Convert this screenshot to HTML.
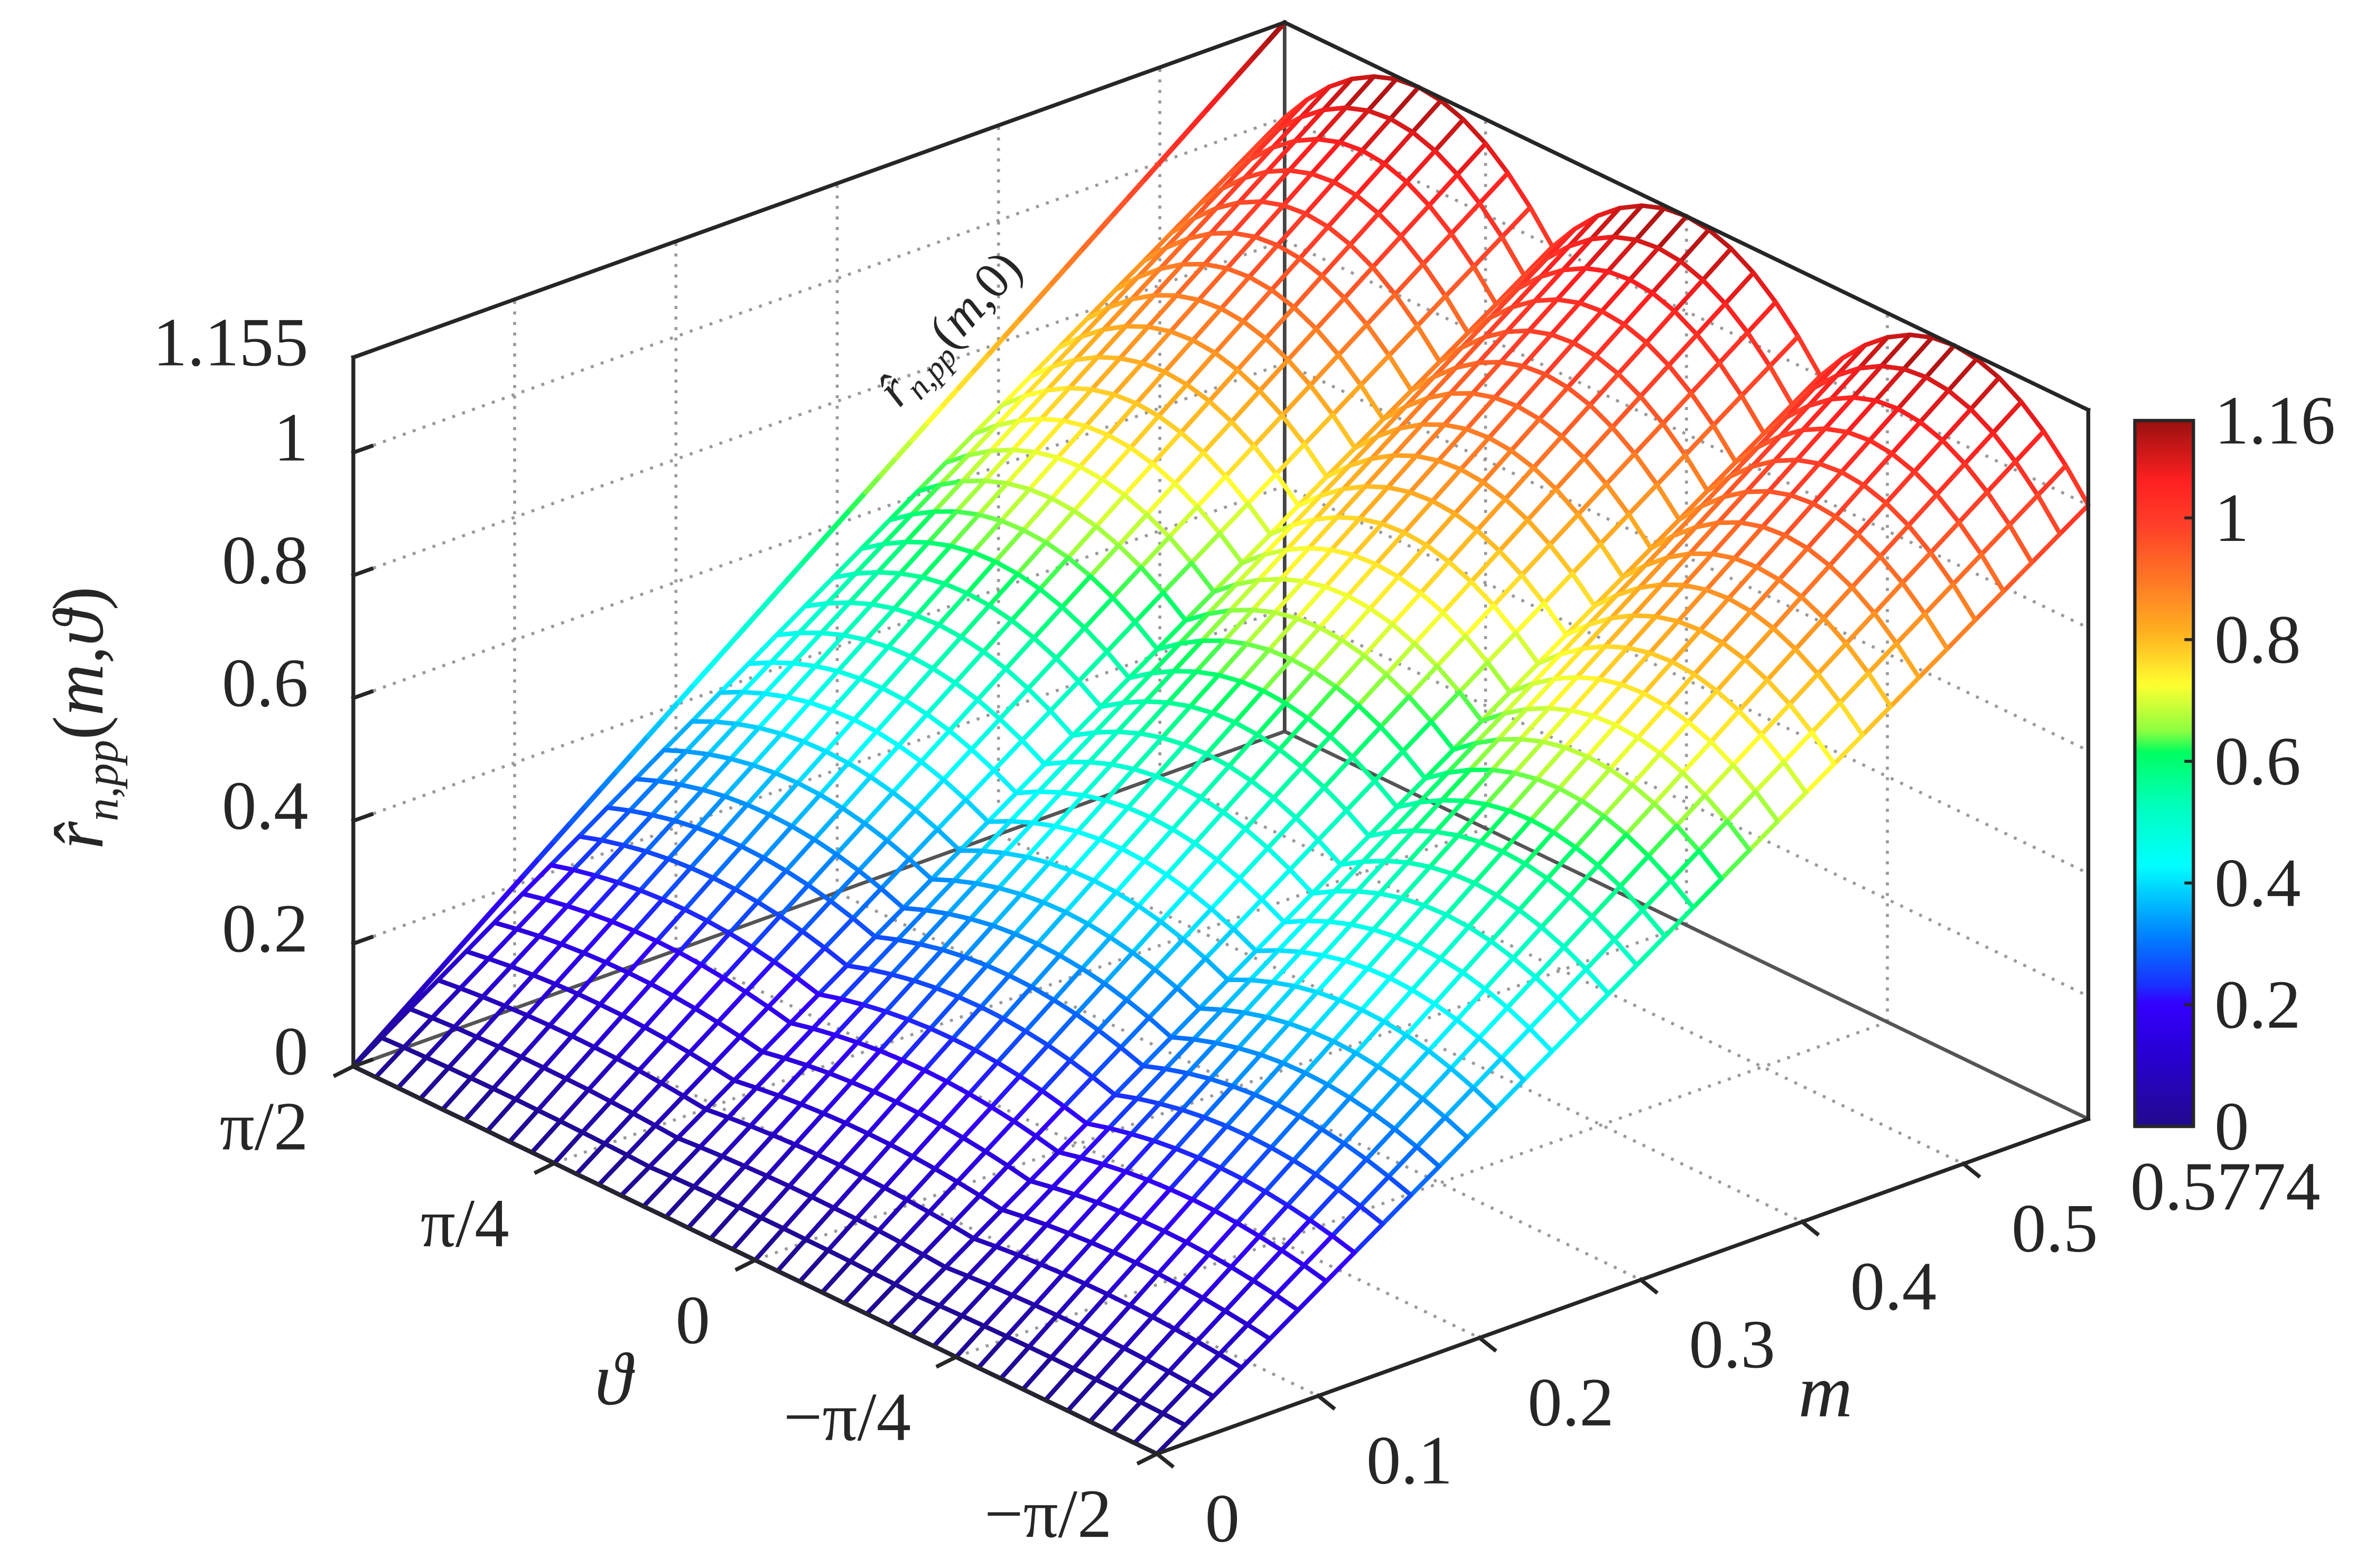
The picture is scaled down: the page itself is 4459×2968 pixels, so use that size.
<!DOCTYPE html>
<html><head><meta charset="utf-8"><style>
html,body{margin:0;padding:0;background:#fff;}
svg{display:block;}
text{font-family:"Liberation Serif","DejaVu Serif",serif;fill:#262626;}
</style></head><body>
<svg id="chart" xmlns="http://www.w3.org/2000/svg" width="4459" height="2968" viewBox="0 0 1568 1044">
<defs>
<linearGradient id="jetgrad" x1="0" y1="1" x2="0" y2="0"></linearGradient>
</defs>
<g id="grid"></g>
<g id="box"></g>
<g id="surf"></g>
<g id="front"></g>
<g id="labels"></g>
<text transform="translate(68,478) rotate(-90)" text-anchor="middle" font-size="48"><tspan font-style="italic">r̂</tspan><tspan font-style="italic" font-size="31" dy="10">n,pp</tspan><tspan dy="-10">(</tspan><tspan font-style="italic">m</tspan><tspan>,</tspan><tspan font-style="italic">ϑ</tspan><tspan>)</tspan></text>
<text x="408" y="935" text-anchor="middle" font-size="50" font-style="italic">ϑ</text>
<text x="1215" y="943" text-anchor="middle" font-size="50" font-style="italic">m</text>
<text transform="translate(640,226) rotate(-48)" text-anchor="middle" font-size="34"><tspan font-style="italic">r̂</tspan><tspan font-style="italic" font-size="22" dy="7">n,pp</tspan><tspan dy="-7">(</tspan><tspan font-style="italic">m</tspan><tspan>,0)</tspan></text>
<g id="cbar"></g>
</svg>
<script>
const mMax = 0.5774;
const zMax = 1.155;
const cMax = 1.16;
const nM = 33;
const nTheta = 36;
const ridgeCenters = [Math.PI/3, 0, -Math.PI/3];
const zTicks = [0, 0.2, 0.4, 0.6, 0.8, 1, 1.155];
const zTickLabels = ["0", "0.2", "0.4", "0.6", "0.8", "1", "1.155"];
const mTicks = [0, 0.1, 0.2, 0.3, 0.4, 0.5];
const mTickLabels = ["0", "0.1", "0.2", "0.3", "0.4", "0.5"];
const thetaTicks = [Math.PI/2, Math.PI/4, 0, -Math.PI/4, -Math.PI/2];
const thetaTickLabels = ["π/2", "π/4", "0", "−π/4", "−π/2"];
const cbarTicks = [0, 0.2, 0.4, 0.6, 0.8, 1, 1.16];
const cbarTickLabels = ["0", "0.2", "0.4", "0.6", "0.8", "1", "1.16"];

const cmapStops = [
  [0.00, [32,10,140]], [0.10, [40,0,210]], [0.175, [51,0,255]], [0.20, [26,48,255]],
  [0.27, [0,128,255]], [0.37, [0,255,255]], [0.45, [0,255,192]], [0.53, [0,255,96]],
  [0.56, [140,255,64]], [0.625, [255,255,48]], [0.70, [255,176,32]], [0.77, [255,122,37]],
  [0.85, [255,64,40]], [0.914, [255,32,32]], [1.00, [154,16,16]]
];
const NS = "http://www.w3.org/2000/svg";
const O = [235, 710], MV = [620, -223], TV = [535, 258], ZS = 408.7;
function P(m, th, z) {
  const a = m / mMax, t = (Math.PI/2 - th) / Math.PI;
  return [O[0] + MV[0]*a + TV[0]*t, O[1] + MV[1]*a + TV[1]*t - ZS*z];
}
function jet(v) {
  v = Math.max(0, Math.min(1, v));
  for (let k = 1; k < cmapStops.length; k++) {
    const [f1, c1] = cmapStops[k-1], [f2, c2] = cmapStops[k];
    if (v <= f2) {
      const u = (v - f1) / (f2 - f1);
      return `rgb(${c1.map((c, i) => Math.round(c + (c2[i]-c)*u)).join(',')})`;
    }
  }
  return 'rgb(154,16,16)';
}
function surfZ(m, th) {
  let best = ridgeCenters[0];
  for (const c of ridgeCenters) if (Math.abs(th-c) < Math.abs(th-best)) best = c;
  return 2*m*Math.cos(th - best);
}
function el(tag, attrs, parent) {
  const e = document.createElementNS(NS, tag);
  for (const k in attrs) e.setAttribute(k, attrs[k]);
  parent.appendChild(e);
  return e;
}
function line(a, b, style, parent, name) {
  const e = el('line', {x1:a[0], y1:a[1], x2:b[0], y2:b[1]}, parent);
  e.setAttribute('style', style);
  
  
  return e;
}
const grid = document.getElementById('grid');
const box = document.getElementById('box');
const surf = document.getElementById('surf');
const front = document.getElementById('front');
const labels = document.getElementById('labels');
const cbar = document.getElementById('cbar');
const dotted = 'stroke:#9a9a9a;stroke-width:2;stroke-dasharray:2 5;fill:none';
const solidGray = 'stroke:#555;stroke-width:2.4';
const dark = 'stroke:#262626;stroke-width:2.6;stroke-linecap:square';
const TH0 = Math.PI/2, TH1 = -Math.PI/2;

zTicks.slice(1, 6).forEach(z => {
  line(P(0,TH0,z), P(mMax,TH0,z), dotted, grid, 'back-left-z-gridline');
  line(P(mMax,TH0,z), P(mMax,TH1,z), dotted, grid, 'back-right-z-gridline');
});
mTicks.slice(1).forEach(m => {
  line(P(m,TH0,0), P(m,TH0,zMax), dotted, grid, 'back-left-m-gridline');
  line(P(m,TH0,0), P(m,TH1,0), dotted, grid, 'floor-m-gridline');
});
thetaTicks.slice(1, 4).forEach(th => {
  line(P(mMax,th,0), P(mMax,th,zMax), dotted, grid, 'back-right-theta-gridline');
  line(P(0,th,0), P(mMax,th,0), dotted, grid, 'floor-theta-gridline');
});
line(P(0,TH0,0), P(mMax,TH0,0), solidGray, box, 'floor-back-left-edge');
line(P(mMax,TH0,0), P(mMax,TH1,0), solidGray, box, 'floor-back-right-edge');
line(P(mMax,TH0,0), P(mMax,TH0,zMax), 'stroke:#444;stroke-width:2.4', box, 'back-vertical-edge');

// surface mesh (wireframe)
const quads = [];
for (let i = 0; i < nM; i++) for (let j = 0; j < nTheta; j++) {
  const m0 = mMax*i/nM, m1 = mMax*(i+1)/nM;
  const t0 = TH0 - Math.PI*j/nTheta, t1 = TH0 - Math.PI*(j+1)/nTheta;
  const pts = [[m0,t0],[m1,t0],[m1,t1],[m0,t1]].map(q => { const z = surfZ(q[0], q[1]); return {p:P(q[0],q[1],z), z}; });
  const fc = P((m0+m1)/2, (t0+t1)/2, 0);
  quads.push({pts, depth: fc[1]});
}
quads.sort((a, b) => a.depth - b.depth);
quads.forEach(q => {
  const zAvg = q.pts.reduce((s, v) => s + v.z, 0) / 4;
  const poly = el('polygon', {points: q.pts.map(v => v.p.map(n => n.toFixed(1)).join(',')).join(' '), fill:'none', stroke: jet(zAvg/cMax), 'stroke-width': 3, 'stroke-linejoin':'round'}, surf);
  
  
});
for (let i = 0; i < 60; i++) {
  const ma = mMax*i/60, mb = mMax*(i+1)/60;
  line(P(ma,TH0,2*ma), P(mb,TH0,2*mb), `stroke:${jet((ma+mb)/cMax)};stroke-width:3.4;stroke-linecap:round`, surf, 'ridge-line-segment');
}

line(P(0,TH0,0), P(0,TH0,zMax), dark, front, 'z-axis-line');
line(P(0,TH0,zMax), P(mMax,TH0,zMax), dark, front, 'top-left-edge');
line(P(mMax,TH0,zMax), P(mMax,TH1,zMax), dark, front, 'top-right-edge');
line(P(mMax,TH1,0), P(mMax,TH1,zMax), dark, front, 'right-vertical-edge');
line(P(0,TH0,0), P(0,TH1,0), dark, front, 'theta-axis-line');
line(P(0,TH1,0), P(mMax,TH1,0), dark, front, 'm-axis-line');

function txt(x, y, s, anchor, name, size) {
  const t = el('text', {x, y, 'text-anchor': anchor, 'dominant-baseline':'central', 'font-size': size || 46}, labels);
  t.textContent = s;
  
  
}
zTicks.forEach((z, i) => {
  const a = P(0,TH0,z);
  line(a, [a[0]+12, a[1]-4.3], dark, front, 'z-tick');
  txt(a[0]-30, a[1]-10, zTickLabels[i], 'end', 'z-tick-label');
});
mTicks.forEach((m, i) => {
  const a = P(m,TH1,0);
  line(a, [a[0]+10, a[1]+8], dark, front, 'm-tick');
  txt(a[0]+32, a[1]+43, mTickLabels[i], 'start', 'm-tick-label');
});
txt(1418, 790, "0.5774", 'start', 'm-max-label');
thetaTicks.forEach((th, i) => {
  const a = P(0,th,0);
  line(a, [a[0]-12, a[1]+6], dark, front, 'theta-tick');
  txt(a[0]-30, a[1]+40, thetaTickLabels[i], 'end', 'theta-tick-label');
});

const grad = document.getElementById('jetgrad');
for (let k = 0; k <= 100; k++) el('stop', {offset: k/100, 'stop-color': jet(k/100)}, grad);
const cx0 = 1421, cx1 = 1460, cy0 = 280, cy1 = 750;
const cr = el('rect', {x: cx0, y: cy0, width: cx1-cx0, height: cy1-cy0, fill: 'url(#jetgrad)', stroke: '#262626', 'stroke-width': 2.2}, cbar);


cbarTicks.forEach((v, i) => {
  const y = cy1 - (cy1-cy0)*v/cMax;
  line([cx1-6, y], [cx1, y], 'stroke:#262626;stroke-width:2', cbar, 'colorbar-tick');
  txt(1474, y, cbarTickLabels[i], 'start', 'colorbar-tick-label');
});
</script>
</body></html>
